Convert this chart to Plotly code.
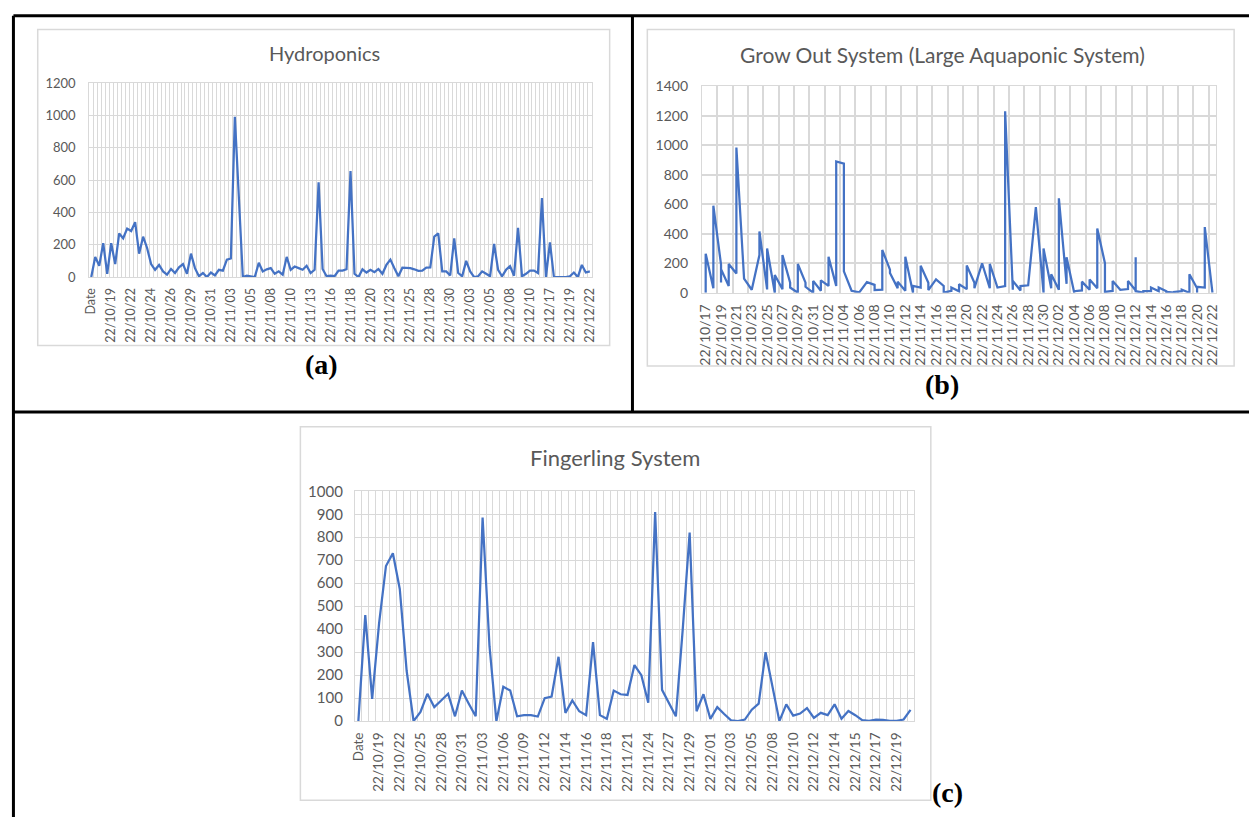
import plotly.graph_objects as go

W, H = 1254, 825

# ---------------- data ----------------
hydro_labels = ['Date', '22/10/19', '22/10/22', '22/10/24', '22/10/26', '22/10/29', '22/10/31',
                '22/11/03', '22/11/05', '22/11/08', '22/11/10', '22/11/13', '22/11/16', '22/11/18',
                '22/11/20', '22/11/23', '22/11/25', '22/11/28', '22/11/30', '22/12/03', '22/12/05',
                '22/12/08', '22/12/10', '22/12/17', '22/12/19', '22/12/22']
hydro_values = [0, 125, 70, 210, 20, 210, 80, 270, 240, 300, 285, 340, 145, 250, 180, 80, 45, 75, 35, 15,
                50, 25, 60, 80, 20, 145, 55, 5, 25, 0, 28, 10, 45, 40, 108, 115, 993, 480, 0, 8,
                4, 0, 88, 35, 48, 55, 20, 35, 15, 125, 45, 65, 55, 45, 70, 25, 45, 587, 50, 5,
                8, 5, 40, 40, 48, 657, 20, 0, 48, 28, 45, 30, 50, 20, 75, 108, 55, 5, 58, 58,
                55, 48, 38, 40, 58, 60, 250, 270, 35, 35, 10, 240, 25, 5, 100, 35, 0, 5, 35, 20,
                5, 205, 45, 5, 45, 68, 8, 305, 5, 20, 40, 40, 25, 490, 0, 215, 0, 0, 0, 0,
                5, 28, 0, 75, 28, 35]

grow_labels = ['22/10/17', '22/10/19', '22/10/21', '22/10/23', '22/10/25', '22/10/27', '22/10/29',
               '22/10/31', '22/11/02', '22/11/04', '22/11/06', '22/11/08', '22/11/10', '22/11/12',
               '22/11/14', '22/11/16', '22/11/18', '22/11/20', '22/11/22', '22/11/24', '22/11/26',
               '22/11/28', '22/11/30', '22/12/02', '22/12/04', '22/12/06', '22/12/08', '22/12/10',
               '22/12/12', '22/12/14', '22/12/16', '22/12/18', '22/12/20', '22/12/22']
grow_dates = ['2022-10-17', '2022-10-17', '2022-10-18', '2022-10-18', '2022-10-19', '2022-10-19',
              '2022-10-19', '2022-10-20', '2022-10-20', '2022-10-21', '2022-10-21', '2022-10-22',
              '2022-10-23', '2022-10-24', '2022-10-24', '2022-10-25', '2022-10-25', '2022-10-26',
              '2022-10-26', '2022-10-27', '2022-10-27', '2022-10-28', '2022-10-28', '2022-10-29',
              '2022-10-29', '2022-10-30', '2022-10-30', '2022-10-31', '2022-10-31', '2022-11-01',
              '2022-11-01', '2022-11-02', '2022-11-02', '2022-11-03', '2022-11-03', '2022-11-04',
              '2022-11-04', '2022-11-05', '2022-11-06', '2022-11-07', '2022-11-08', '2022-11-08',
              '2022-11-09', '2022-11-09', '2022-11-10', '2022-11-10', '2022-11-11', '2022-11-11',
              '2022-11-12', '2022-11-12', '2022-11-13', '2022-11-13', '2022-11-14', '2022-11-14',
              '2022-11-15', '2022-11-15', '2022-11-16', '2022-11-17', '2022-11-17', '2022-11-18',
              '2022-11-18', '2022-11-19', '2022-11-19', '2022-11-20', '2022-11-20', '2022-11-21',
              '2022-11-21', '2022-11-22', '2022-11-23', '2022-11-23', '2022-11-24', '2022-11-25',
              '2022-11-25', '2022-11-26', '2022-11-26', '2022-11-27', '2022-11-27', '2022-11-28',
              '2022-11-29', '2022-11-30', '2022-11-30', '2022-12-01', '2022-12-01', '2022-12-02',
              '2022-12-02', '2022-12-03', '2022-12-03', '2022-12-04', '2022-12-04', '2022-12-05',
              '2022-12-05', '2022-12-06', '2022-12-06', '2022-12-07', '2022-12-07', '2022-12-08',
              '2022-12-08', '2022-12-09', '2022-12-09', '2022-12-10', '2022-12-11', '2022-12-11',
              '2022-12-12', '2022-12-12', '2022-12-12', '2022-12-13', '2022-12-13', '2022-12-14',
              '2022-12-14', '2022-12-15', '2022-12-15', '2022-12-16', '2022-12-16', '2022-12-17',
              '2022-12-17', '2022-12-18', '2022-12-18', '2022-12-19', '2022-12-19', '2022-12-20',
              '2022-12-20', '2022-12-20', '2022-12-21', '2022-12-21', '2022-12-22']
grow_values = [0, 265, 30, 590, 190, 70, 160, 45, 195, 130, 985, 95,
               20, 255, 415, 22, 300, 0, 120, 24, 255, 68, 35, 0,
               195, 68, 40, 0, 80, 13, 84, 46, 244, 46, 890, 875,
               145, 13, 2, 72, 53, 18, 20, 290, 156, 134, 31, 75,
               13, 244, 0, 46, 35, 183, 68, 18, 90, 46, 0, 13,
               35, 9, 57, 24, 185, 68, 31, 200, 30, 195, 35, 45,
               1230, 20, 80, 15, 45, 50, 580, 0, 300, 30, 125, 20,
               640, 60, 240, 0, 10, 15, 75, 20, 90, 30, 435, 200,
               5, 12, 80, 20, 25, 80, 15, 240, 10, 0, 10, 10,
               35, 10, 35, 10, 5, 0, 5, 10, 20, 0, 125, 30,
               0, 40, 35, 445, 0]

fing_labels = ['Date', '22/10/19', '22/10/22', '22/10/25', '22/10/28', '22/10/31', '22/11/03',
               '22/11/06', '22/11/09', '22/11/12', '22/11/14', '22/11/16', '22/11/18', '22/11/21',
               '22/11/24', '22/11/27', '22/11/29', '22/12/01', '22/12/03', '22/12/05', '22/12/08',
               '22/12/10', '22/12/12', '22/12/14', '22/12/15', '22/12/17', '22/12/19']
fing_values = [0, 461, 97, 425, 675, 730, 575, 218, 0, 40, 119, 61, 90, 119, 21, 133, 76, 21,
               886, 326, 0, 150, 133, 21, 26, 26, 20, 100, 107, 280, 36, 90, 43, 26, 344, 26,
               10, 133, 117, 114, 244, 200, 80, 910, 136, 75, 21, 400, 820, 43, 117, 10, 61, 31,
               3, 0, 7, 50, 76, 300, 143, 0, 73, 24, 33, 57, 14, 36, 26, 73, 10, 44, 26, 4,
               1, 7, 5, 1, 1, 7, 49]

# ---------------- styling helpers ----------------
BLUE = '#4472C4'
GRID = '#D9D9D9'
TXT = '#595959'
FONT = 'Lato, Carlito, Open Sans, sans-serif'


def fx(px):
    return px / W


def fy(py):
    return 1 - py / H


fig = go.Figure()

fig.add_trace(go.Scatter(x=list(range(len(hydro_values))), y=hydro_values, mode='lines',
                         line=dict(color=BLUE, width=2.25), xaxis='x', yaxis='y', showlegend=False))
fig.add_trace(go.Scatter(x=grow_dates, y=grow_values, mode='lines',
                         line=dict(color=BLUE, width=2.25), xaxis='x2', yaxis='y2', showlegend=False))
fig.add_trace(go.Scatter(x=list(range(len(fing_values))), y=fing_values, mode='lines',
                         line=dict(color=BLUE, width=2.25), xaxis='x3', yaxis='y3', showlegend=False))


def cat_xaxis(dom, anchor, labels, step, n, size):
    return dict(domain=dom, anchor=anchor, range=[-0.5, n - 0.5],
                tickmode='array', tickvals=[i * step for i in range(len(labels))], ticktext=labels,
                tickangle=-90, showgrid=False, zeroline=False, ticks='',
                showline=True, linecolor=GRID, linewidth=1, mirror=True,
                tickfont=dict(family=FONT, size=size, color=TXT), ticklabelstandoff=5,
                minor=dict(tickmode='linear', tick0=-0.5, dtick=1, showgrid=True,
                           gridcolor=GRID, gridwidth=1, ticks=''))


def val_yaxis(dom, anchor, top, dt, size, standoff=8):
    return dict(domain=dom, anchor=anchor, range=[0, top], dtick=dt, tick0=0,
                showgrid=True, gridcolor=GRID, gridwidth=1, zeroline=False,
                showline=True, linecolor=GRID, linewidth=1, mirror=True, ticks='',
                tickfont=dict(family=FONT, size=size, color=TXT), ticklabelstandoff=standoff)


# plot-area pixel boxes
A = (84, 591, 75, 273)
B = (702, 1221, 78, 289)
C = (352, 916, 492, 727)

grow_tickvals = ['20' + s.replace('/', '-') for s in grow_labels]

fig.update_layout(
    width=W, height=H, margin=dict(l=0, r=0, t=0, b=0),
    paper_bgcolor='white', plot_bgcolor='white',
    xaxis=cat_xaxis([fx(A[0]), fx(A[1])], 'y', hydro_labels, 5, len(hydro_values), 12.5),
    yaxis=val_yaxis([fy(A[3]), fy(A[2])], 'x', 1200, 200, 13, 10),
    xaxis2=dict(domain=[fx(B[0]), fx(B[1])], anchor='y2', type='date',
                range=['2022-10-16 12:00', '2022-12-22 12:00'],
                tickmode='array', tickvals=grow_tickvals, ticktext=grow_labels,
                tickangle=-90, showgrid=False, zeroline=False, ticks='',
                showline=True, linecolor=GRID, linewidth=1, mirror=True,
                tickfont=dict(family=FONT, size=14, color=TXT), ticklabelstandoff=5,
                minor=dict(tick0='2022-10-16 12:00', dtick=2 * 86400000, showgrid=True,
                           gridcolor=GRID, gridwidth=1.5, ticks='')),
    yaxis2=val_yaxis([fy(B[3]), fy(B[2])], 'x2', 1400, 200, 14, 10),
    xaxis3=cat_xaxis([fx(C[0]), fx(C[1])], 'y3', fing_labels, 3, len(fing_values), 13.5),
    yaxis3=val_yaxis([fy(C[3]), fy(C[2])], 'x3', 1000, 100, 15, 8),
)
fig.update_layout(yaxis2=dict(gridwidth=1.5))

shapes = []
# chart frames (light gray)
for (x0, y0, x1, y1) in [(32, 20, 609, 343), (647, 20, 1239, 364), (297, 426, 933, 808)]:
    shapes.append(dict(type='rect', xref='paper', yref='paper', x0=fx(x0), x1=fx(x1),
                       y0=fy(y1), y1=fy(y0), line=dict(color=GRID, width=1.5), layer='below'))
# black panel borders
for (x0, y0, x1, y1) in [(7.5, 6, 1254, 6), (7.5, 6, 7.5, 825), (632, 6, 632, 411), (7.5, 411, 1254, 411)]:
    shapes.append(dict(type='line', xref='paper', yref='paper', x0=fx(x0), x1=fx(x1),
                       y0=fy(y0), y1=fy(y1), line=dict(color='black', width=3)))
fig.update_layout(shapes=shapes)

ann = []
for text, x, y, s in [('Hydroponics', 321, 44, 20), ('Grow Out System (Large Aquaponic System)', 945, 46, 21),
                      ('Fingerling System', 614, 457, 22)]:
    ann.append(dict(text=text, x=fx(x), y=fy(y), xref='paper', yref='paper', showarrow=False,
                    xanchor='center', yanchor='middle',
                    font=dict(family=FONT, size=s, color=TXT)))
for text, x, y in [('(a)', 318, 362), ('(b)', 944, 383), ('(c)', 950, 800)]:
    ann.append(dict(text='<b>' + text + '</b>', x=fx(x), y=fy(y), xref='paper', yref='paper',
                    showarrow=False, xanchor='center', yanchor='middle',
                    font=dict(family='Liberation Serif, Times New Roman, serif', size=28, color='black')))
fig.update_layout(annotations=ann)

fig.write_html('out.html')
